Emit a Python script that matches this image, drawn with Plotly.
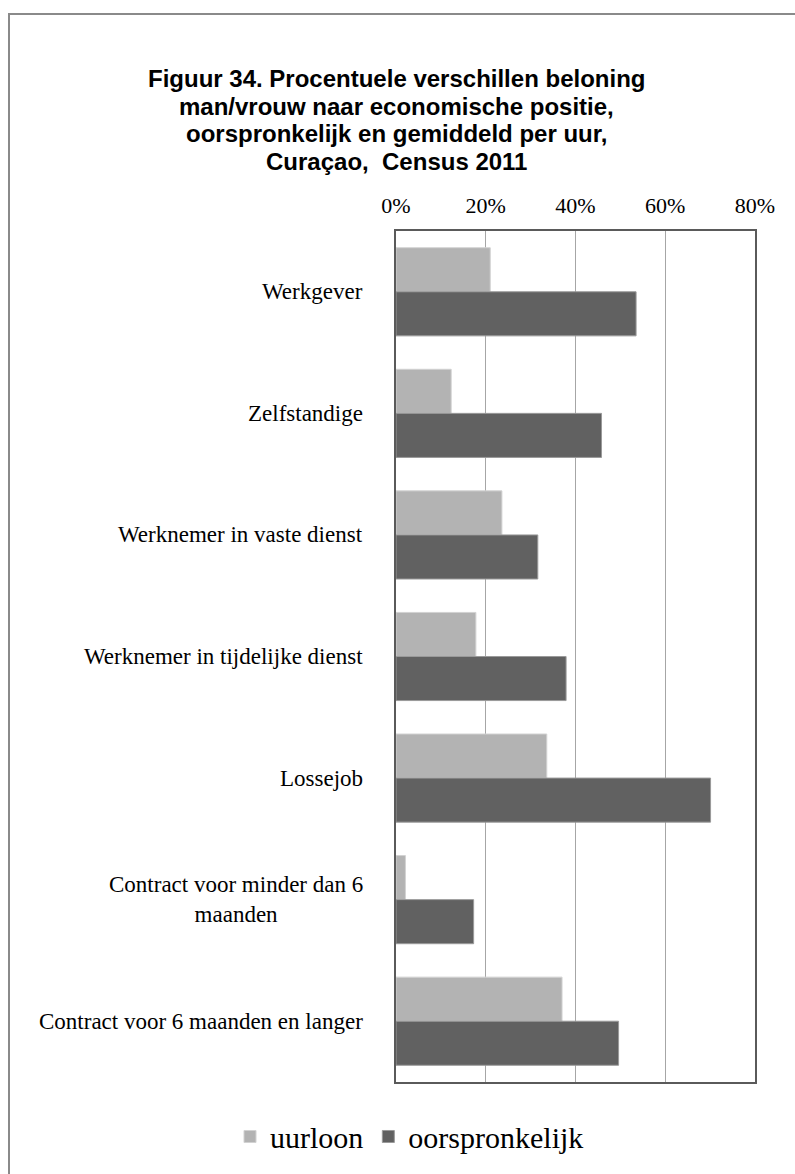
import plotly.graph_objects as go

# Economic position categories (top to bottom)
categories = [
    "Werkgever",
    "Zelfstandige",
    "Werknemer in vaste dienst",
    "Werknemer in tijdelijke dienst",
    "Lossejob",
    "Contract voor minder dan 6<br>maanden",
    "Contract voor 6 maanden en langer",
]

# Percentage pay difference man/woman
uurloon = [21.0, 12.3, 23.6, 17.8, 33.6, 2.1, 37.0]
oorspronkelijk = [53.5, 45.8, 31.6, 37.9, 70.1, 17.3, 49.6]

x_ticks = [0, 20, 40, 60, 80]
x_tick_labels = ["0%", "20%", "40%", "60%", "80%"]

title_lines = [
    "Figuur 34. Procentuele verschillen beloning",
    "man/vrouw naar economische positie,",
    "oorspronkelijk en gemiddeld per uur,",
    "Curaçao,  Census 2011",
]

W, H = 795, 1174
L, R, T, B = 396, 40, 231, 84
PW, PH = W - L - R, H - T - B


def px_x(p):
    return (p - L) / PW


def px_y(p):
    return (H - B - p) / PH


serif = "Liberation Serif, Times New Roman, serif"
sans = "Liberation Sans, Arial, sans-serif"

fig = go.Figure()
fig.add_trace(go.Bar(
    y=categories, x=uurloon, orientation="h", name="uurloon",
    marker=dict(color="#b3b3b3", line=dict(color="#d2d2d2", width=1)),
))
fig.add_trace(go.Bar(
    y=categories, x=oorspronkelijk, orientation="h", name="oorspronkelijk",
    marker=dict(color="#616161", line=dict(color="#9a9a9a", width=1)),
))

annotations = []
# Title lines
for i, line in enumerate(title_lines):
    annotations.append(dict(
        text="<b>" + line + "</b>", xref="paper", yref="paper",
        x=px_x(W / 2 - 1), y=px_y(77 + 28 * i),
        xanchor="center", yanchor="middle", showarrow=False,
        font=dict(family=sans, size=24, color="#000000"),
    ))
# Category labels
for c in categories:
    annotations.append(dict(
        text=c, xref="paper", yref="y", x=px_x(365), y=c,
        xanchor="right", yanchor="middle", align="center", showarrow=False,
        font=dict(family=serif, size=23, color="#000000"),
    ))

fig.update_layout(
    width=W, height=H,
    margin=dict(l=L, r=R, t=T, b=B),
    paper_bgcolor="#ffffff", plot_bgcolor="#ffffff",
    barmode="group", bargap=0.275, bargroupgap=0,
    showlegend=True,
    legend=dict(
        orientation="h", xref="paper", yref="paper",
        x=px_x(230), y=px_y(1145), xanchor="left", yanchor="middle",
        font=dict(family=serif, size=30, color="#000000"),
        itemwidth=30, tracegroupgap=0,
    ),
    annotations=annotations,
    shapes=[dict(
        type="rect", xref="paper", yref="paper",
        x0=px_x(9), x1=px_x(W + 10), y0=px_y(H + 10), y1=px_y(12),
        line=dict(color="#8a8a8a", width=2), fillcolor="rgba(0,0,0,0)",
        layer="below",
    )],
    xaxis=dict(
        side="top", range=[0, 80], tickvals=x_ticks, ticktext=x_tick_labels,
        showgrid=True, gridcolor="#a6a6a6", gridwidth=1,
        showline=True, linecolor="#5a5a5a", linewidth=1.5, mirror=True,
        ticks="", ticklabelstandoff=7, zeroline=False,
        tickfont=dict(family=serif, size=22, color="#000000"),
        fixedrange=True,
    ),
    yaxis=dict(
        autorange="reversed", showticklabels=False, ticks="",
        showline=True, linecolor="#5a5a5a", linewidth=1.5, mirror=True,
        showgrid=False, fixedrange=True,
    ),
)

fig.write_html("out.html")
